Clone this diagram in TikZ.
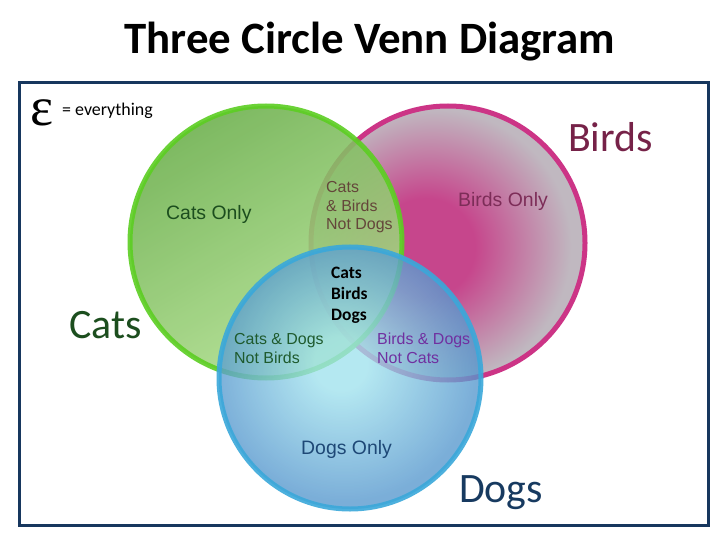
\documentclass[tikz,border=0pt]{standalone}
\usepackage{fontspec}
\setmainfont{Liberation Sans}
\newfontfamily\calibri{Carlito}
\newfontfamily\greekfont{Liberation Serif}
\definecolor{framenavy}{RGB}{23,55,94}
\definecolor{catring}{RGB}{92,206,34}
\definecolor{catdark}{RGB}{108,176,76}
\definecolor{catlight}{RGB}{176,224,142}
\definecolor{birdring}{RGB}{204,52,134}
\definecolor{birdcentre}{RGB}{198,70,140}
\definecolor{birdedge}{RGB}{192,184,192}
\definecolor{dogring}{RGB}{58,168,218}
\definecolor{dogcentre}{RGB}{160,226,238}
\definecolor{dogedge}{RGB}{86,152,206}
\definecolor{catstext}{RGB}{28,78,30}
\definecolor{birdstext}{RGB}{118,34,72}
\definecolor{dogstext}{RGB}{23,58,96}
\definecolor{birdsonlytext}{RGB}{125,45,88}
\definecolor{dogsonlytext}{RGB}{30,72,118}
\definecolor{cbtext}{RGB}{100,70,58}
\definecolor{cdtext}{RGB}{30,90,45}
\definecolor{bdtext}{RGB}{112,48,160}
\pgfdeclareradialshading{birdshade}{\pgfpoint{-5bp}{-1bp}}{color(0bp)=(birdcentre); color(9bp)=(birdcentre); color(25bp)=(birdedge); color(50bp)=(birdedge)}
\pgfdeclareradialshading{dogshade}{\pgfpoint{-2bp}{3bp}}{color(0bp)=(dogcentre); color(5bp)=(dogcentre); color(25bp)=(dogedge); color(50bp)=(dogedge)}
\begin{document}
\begin{tikzpicture}[x=1bp,y=-1bp]
\tikzset{ring/.style = {line width=5bp}}
\tikzset{big/.style = {font=\calibri\fontsize{42}{42}\selectfont, anchor=base west, inner sep=0}}
\tikzset{region/.style = {font=\fontsize{16}{19}\selectfont, anchor=base west, inner sep=0, align=left}}
\tikzset{only/.style = {font=\fontsize{19.5}{20}\selectfont, anchor=base west, inner sep=0}}
\useasboundingbox (0,0) rectangle (728,546);
\fill[white] (0,0) rectangle (728,546);
% title
\node[anchor=base, inner sep=0, font=\calibri\bfseries\fontsize{45}{45}\selectfont] (title) at (370,54) {Three Circle Venn Diagram};
% frame
\draw[framenavy, line width=3bp] (19,83) rectangle (708,525);
% circles, back to front
\shade[shading=birdshade] (448,243) circle (137);
\draw[ring, birdring] (448,243) circle (137);
\shade[top color=catdark, bottom color=catlight, shading angle=30, fill opacity=0.88] (266,242) circle (136);
\draw[ring, catring, opacity=0.9] (266,242) circle (136);
\shade[shading=dogshade, fill opacity=0.78] (350,378) circle (131);
\draw[ring, dogring, opacity=0.9] (350,378) circle (131);
% universe
\node[anchor=base west, inner sep=0, font=\greekfont\fontsize{55}{55}\selectfont] (universe) at (30,126) {ε};
\node[anchor=base west, inner sep=0, font=\calibri\fontsize{18}{18}\selectfont] (everything) at (62,116) {= everything};
% set names
\node[big, text=catstext] (cats) at (69,338) {Cats};
\node[big, text=birdstext] (birds) at (568,152) {Birds};
\node[big, text=dogstext] (dogs) at (459,502) {Dogs};
% region labels (base = last line)
\node[only, text=catstext] (catsonly) at (166,220) {Cats Only};
\node[only, text=birdsonlytext] (birdsonly) at (458,207) {Birds Only};
\node[only, text=dogsonlytext] (dogsonly) at (301,454) {Dogs Only};
\node[region, text=cbtext] (catsbirds) at (326,230) {Cats\\\& Birds\\Not Dogs};
\node[region, text=cdtext] (catsdogs) at (234,363) {Cats \& Dogs\\Not Birds};
\node[region, text=bdtext] (birdsdogs) at (377,363) {Birds \& Dogs\\Not Cats};
\node[region, font=\calibri\bfseries\fontsize{17.5}{21}\selectfont] (allthree) at (331,320) {Cats\\Birds\\Dogs};
\end{tikzpicture}
\end{document}
